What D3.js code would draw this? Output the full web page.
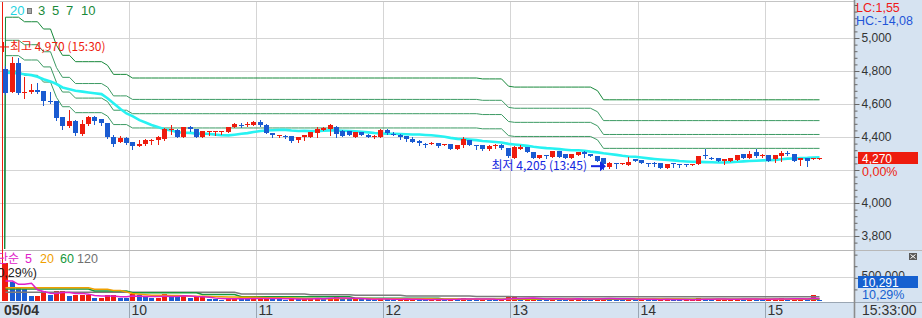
<!DOCTYPE html>
<html>
<head>
<meta charset="utf-8">
<script src="https://cdn.jsdelivr.net/npm/d3@7"></script>
<style>
    body { margin: 0; background: #ffffff; }
    svg { display: block; }
    text { font-family: "Liberation Sans Narrow", "Liberation Sans", Arial, sans-serif; }
    .kr { font-family: "Noto Sans CJK KR", sans-serif; }
    .wide { font-family: "Liberation Sans", Arial, sans-serif; }
</style>
</head>
<body>
<div id="chart-area"></div>
<script>
// 05/04, 3-minute candles starting at 09:00
var slotMinutes = 3;

var open = [
    4810, 4675, 4850, 4670, 4670, 4685, 4680, 4620, 4620, 4520,
    4465, 4495, 4420, 4480, 4520, 4510, 4485, 4400, 4370, 4395,
    4370, 4345, 4360, 4375, 4380, 4385, 4440, 4445, 4400, 4460,
    4450, 4400, 4430, 4430, 4430, 4430, 4460, 4475, 4475, 4475,
    4490, 4475, 4425, 4405, 4405, 4405, 4380, 4400, 4400, 4425,
    4445, 4450, 4460, 4435, 4435, 4400, 4430, 4415, 4400, 4400,
    4445, 4420, 4415, 4405, 4385, 4375, 4355, 4355, 4365, 4350,
    4355, 4330, 4350, 4380, 4350, 4350, 4325, 4345, 4350, 4335,
    4275, 4330, 4340, 4310, 4275, 4290, 4280, 4315, 4295, 4275,
    4290, 4310, 4295, 4285, 4275, 4220, 4240, 4235, 4230, 4265,
    4260, 4245, 4245, 4240, 4215, 4240, 4235, 4235, 4230, 4235,
    4290, 4275, 4275, 4255, 4255, 4260, 4295, 4275, 4310, 4290,
    4290, 4265, 4285, 4305, 4300, 4260, 4275, 4265, 4265
];
var high = [
    4830, 4885, 4880, 4765, 4720, 4730, 4680, 4675, 4620, 4520,
    4565, 4505, 4505, 4525, 4525, 4510, 4485, 4410, 4405, 4400,
    4370, 4380, 4385, 4390, 4405, 4455, 4475, 4450, 4460, 4465,
    4450, 4435, 4435, 4435, 4435, 4460, 4485, 4485, 4490, 4495,
    4505, 4480, 4425, 4415, 4415, 4405, 4400, 4415, 4430, 4460,
    4460, 4480, 4465, 4440, 4435, 4430, 4430, 4420, 4410, 4450,
    4450, 4430, 4420, 4405, 4400, 4380, 4365, 4370, 4365, 4355,
    4355, 4350, 4400, 4380, 4350, 4350, 4350, 4355, 4355, 4335,
    4345, 4350, 4340, 4310, 4290, 4290, 4315, 4315, 4295, 4295,
    4310, 4315, 4295, 4285, 4275, 4250, 4240, 4240, 4280, 4265,
    4260, 4245, 4250, 4240, 4235, 4240, 4235, 4235, 4235, 4285,
    4325, 4280, 4275, 4265, 4270, 4290, 4295, 4315, 4325, 4300,
    4290, 4290, 4315, 4315, 4300, 4275, 4275, 4270, 4270
];
var low = [
    4660, 4670, 4660, 4635, 4665, 4665, 4595, 4605, 4505, 4450,
    4460, 4415, 4415, 4475, 4480, 4475, 4395, 4345, 4370, 4360,
    4325, 4345, 4350, 4360, 4360, 4380, 4420, 4400, 4400, 4435,
    4400, 4400, 4410, 4410, 4420, 4430, 4460, 4460, 4465, 4470,
    4465, 4425, 4400, 4400, 4395, 4370, 4370, 4380, 4400, 4400,
    4440, 4410, 4400, 4405, 4410, 4400, 4410, 4400, 4395, 4400,
    4420, 4410, 4390, 4375, 4370, 4350, 4340, 4355, 4340, 4350,
    4325, 4330, 4340, 4350, 4330, 4320, 4320, 4335, 4325, 4280,
    4275, 4325, 4310, 4275, 4275, 4275, 4280, 4280, 4275, 4275,
    4290, 4280, 4285, 4255, 4205, 4210, 4210, 4235, 4230, 4255,
    4240, 4225, 4225, 4215, 4215, 4220, 4220, 4225, 4230, 4235,
    4270, 4265, 4255, 4235, 4255, 4260, 4275, 4270, 4280, 4280,
    4255, 4250, 4255, 4290, 4255, 4230, 4225, 4265, 4265
];
var close = [
    4665, 4850, 4665, 4675, 4685, 4675, 4620, 4610, 4515, 4465,
    4495, 4425, 4480, 4520, 4500, 4485, 4400, 4360, 4395, 4365,
    4345, 4360, 4380, 4380, 4400, 4450, 4450, 4400, 4460, 4450,
    4400, 4435, 4435, 4435, 4435, 4460, 4480, 4470, 4480, 4490,
    4475, 4425, 4415, 4415, 4400, 4375, 4400, 4410, 4430, 4450,
    4455, 4470, 4420, 4405, 4410, 4430, 4410, 4400, 4405, 4445,
    4425, 4415, 4400, 4385, 4370, 4365, 4350, 4365, 4345, 4355,
    4325, 4350, 4385, 4350, 4345, 4325, 4345, 4350, 4335, 4285,
    4340, 4340, 4310, 4275, 4290, 4285, 4315, 4280, 4275, 4295,
    4310, 4295, 4285, 4255, 4235, 4240, 4235, 4240, 4250, 4255,
    4240, 4240, 4240, 4215, 4235, 4235, 4230, 4230, 4235, 4285,
    4285, 4270, 4255, 4265, 4270, 4290, 4275, 4295, 4285, 4290,
    4255, 4290, 4305, 4300, 4255, 4275, 4255, 4270, 4270
];
// volume, thousands of shares
var volumeK = [
    813, 416, 308, 259, 114, 118, 222, 129, 222, 225,
    114, 129, 132, 140, 70, 72, 129, 130, 70, 60,
    145, 120, 95, 60, 75, 150, 110, 95, 130, 60,
    85, 90, 40, 35, 30, 55, 70, 45, 40, 55,
    60, 75, 50, 35, 30, 55, 40, 45, 55, 70,
    45, 75, 78, 50, 45, 55, 40, 35, 25, 60,
    45, 30, 35, 40, 45, 30, 25, 35, 40, 25,
    45, 35, 60, 50, 30, 40, 35, 30, 35, 85,
    90, 40, 45, 60, 40, 30, 55, 45, 40, 45,
    50, 40, 35, 50, 75, 60, 35, 30, 50, 35,
    40, 30, 25, 40, 45, 25, 20, 20, 25, 70,
    45, 30, 35, 40, 45, 50, 35, 45, 40, 30,
    45, 50, 55, 35, 45, 50, 40, 130, 10.291
];

// averages carried over from the previous session
var ma20Head = [
    4790, 4788, 4785, 4780, 4775, 4765, 4750, 4737, 4721, 4700,
    4690, 4680, 4675, 4670, 4665, 4660, 4635, 4605, 4570
];
var volMa5Head = [431, 431, 360, 360];
var volMa20Head = [
    287, 287, 287, 287, 287, 287, 287, 287, 287, 287,
    287, 287, 287, 287, 252, 252, 252, 226, 226
];
var volMa60K = [
    259, 259, 259, 259, 259, 259, 259, 259, 259, 259,
    259, 259, 259, 259, 216, 216, 216, 216, 216, 216,
    179, 179, 179, 179, 179, 179, 179, 179, 179, 179,
    179, 140, 140, 140, 140, 140, 140, 93, 93, 93,
    93, 93, 93, 93, 93, 93, 93, 93, 93, 93,
    93, 93, 93, 93, 93, 58, 58, 58, 58, 58,
    58, 58, 58, 58, 58, 58, 58, 58, 58, 37,
    37, 37, 37, 37, 37, 37, 37, 37, 37, 37,
    37, 37, 37, 37, 37, 37, 37, 37, 37, 37,
    37, 37, 37, 37, 37, 37, 37, 37, 37, 37,
    37, 37, 37, 37, 37, 37, 37, 37, 37, 37,
    37, 37, 37, 37, 37, 37, 37, 37, 37, 37,
    37, 37, 37, 37, 37, 37, 37, 37, 37
];
var volMa120K = [
    188, 188, 188, 188, 188, 188, 188, 188, 188, 188,
    188, 188, 188, 188, 188, 188, 188, 188, 188, 188,
    188, 188, 188, 188, 188, 188, 188, 188, 188, 188,
    188, 188, 188, 188, 188, 188, 188, 151, 151, 151,
    151, 151, 151, 151, 151, 151, 151, 151, 136, 136,
    136, 136, 136, 136, 136, 123, 123, 123, 123, 123,
    123, 123, 123, 108, 108, 108, 108, 108, 108, 108,
    108, 108, 108, 108, 97, 97, 97, 97, 97, 97,
    91, 91, 91, 91, 91, 91, 91, 91, 91, 91,
    91, 91, 91, 91, 91, 91, 91, 91, 91, 91,
    91, 91, 91, 91, 91, 91, 91, 91, 91, 91,
    91, 91, 91, 91, 91, 91, 91, 91, 91, 91,
    91, 91, 91, 91, 91, 91, 91, 91, 91
];

var envelopePct = [3, 5, 7, 10];
var priceTicks = [3800, 4000, 4200, 4400, 4600, 4800, 5000];
var volTicks = [500];
var hourTicks = [60, 120, 180, 240, 300, 360];   // minutes after 09:00
var hourLabels = ["10", "11", "12", "13", "14", "15"];
var dayLabel = "05/04";
var clockLabel = "15:33:00";
var dayHigh = 4970, dayHighTime = "15:30";
var dayLowTime = "13:45";
var lastPrice = 4270, lastChange = "0,00%";
var lastVolume = "10,291", lastVolumePct = "10,29%";
var lcText = "LC:1,55", hcText = "HC:-14,08";

var width = 922;
var height = 318;
var plotRight = 854;
var mainTop = 2, mainBottom = 249;
var volTop = 251, volBottom = 301;
var bandTop = 302;

var red = "#ee1c0e";
var blue = "#1a5bd1";
var panelFill = "#d6e3f1";
var gridColor = "#d5d5d5";
var fmt = d3.format(",");

var svg = d3.select("#chart-area")
    .append("svg")
    .attr("width", width)
    .attr("height", height);

svg.append("rect").attr("width", width).attr("height", height).attr("fill", "#fff");
svg.append("rect")
    .attr("x", plotRight).attr("y", 0)
    .attr("width", width - plotRight).attr("height", height)
    .attr("fill", panelFill);
svg.append("rect")
    .attr("x", 0).attr("y", bandTop)
    .attr("width", plotRight).attr("height", height - bandTop)
    .attr("fill", panelFill);

var x = d3.scaleLinear().domain([0, 393]).range([2, 835.2]);
var y = d3.scaleLinear().domain([4200, 5000]).range([170, 38]);
var yv = d3.scaleLinear().domain([0, 1100]).range([volBottom, 250]);

function cx(i) {
    return Math.round(x(i * slotMinutes + slotMinutes / 2));
}
function px(v) {
    return Math.floor(v) + 0.5;
}
function candleColor(i) {
    return close[i] >= open[i] ? red : blue;
}

var defs = svg.append("defs");
defs.append("clipPath").attr("id", "clip-main")
    .append("rect").attr("x", 0).attr("y", mainTop)
    .attr("width", plotRight).attr("height", mainBottom - mainTop);
defs.append("clipPath").attr("id", "clip-vol")
    .append("rect").attr("x", 0).attr("y", volTop)
    .attr("width", plotRight).attr("height", volBottom - volTop + 1);

// grid
svg.append("g").selectAll("line")
    .data(priceTicks)
    .enter()
    .append("line")
    .attr("x1", 0).attr("x2", plotRight)
    .attr("y1", function(d) { return px(y(d)); })
    .attr("y2", function(d) { return px(y(d)); })
    .attr("stroke", gridColor);

svg.append("g").selectAll("line")
    .data(volTicks)
    .enter()
    .append("line")
    .attr("x1", 0).attr("x2", plotRight)
    .attr("y1", function(d) { return px(yv(d)); })
    .attr("y2", function(d) { return px(yv(d)); })
    .attr("stroke", gridColor);

svg.append("g").selectAll("line")
    .data(hourTicks)
    .enter()
    .append("line")
    .attr("x1", function(d) { return px(x(d)); })
    .attr("x2", function(d) { return px(x(d)); })
    .attr("y1", mainTop).attr("y2", bandTop)
    .attr("stroke", gridColor);

svg.append("g").selectAll("line")
    .data(hourTicks)
    .enter()
    .append("line")
    .attr("x1", function(d) { return px(x(d)); })
    .attr("x2", function(d) { return px(x(d)); })
    .attr("y1", bandTop).attr("y2", height)
    .attr("stroke", "#9aa6b3");

// panel borders
svg.append("line").attr("x1", 0).attr("x2", plotRight).attr("y1", 1.5).attr("y2", 1.5).attr("stroke", "#c4c4c4");
svg.append("line").attr("x1", 0).attr("x2", width).attr("y1", 250.5).attr("y2", 250.5).attr("stroke", "#b8b8b8");
svg.append("line").attr("x1", 0).attr("x2", width).attr("y1", bandTop + 0.5).attr("y2", bandTop + 0.5).attr("stroke", "#9aa6b3");
svg.append("line").attr("x1", plotRight + 0.5).attr("x2", plotRight + 0.5).attr("y1", 0).attr("y2", height)
    .attr("stroke", "#8c8c8c").attr("stroke-width", 1.6);

// day separator
svg.append("line")
    .attr("x1", px(x(0))).attr("x2", px(x(0)))
    .attr("y1", mainTop).attr("y2", volBottom)
    .attr("stroke", red);

// ---- main panel ----
var main = svg.append("g").attr("clip-path", "url(#clip-main)");

var runMin = [];
low.forEach(function(v, i) {
    runMin.push(i === 0 ? v : Math.min(runMin[i - 1], v));
});

var envLine = d3.line()
    .x(function(d) { return d.x; })
    .y(function(d) { return y(d.v); });

envelopePct.forEach(function(p) {
    var pts = [{ x: x(0), v: 0 }].concat(runMin.map(function(m, i) {
        return { x: cx(i) + 0.5, v: m * (1 + p / 100) };
    }));
    main.append("path")
        .attr("d", envLine(pts))
        .attr("fill", "none")
        .attr("stroke", p === 10 ? "#17883a" : "#3c9a63")
        .attr("stroke-width", 1);
});

var ma20 = close.map(function(d, i) {
    return i < ma20Head.length ? ma20Head[i] : d3.mean(close.slice(i - 19, i + 1));
});

main.append("path")
    .attr("d", d3.line()
        .x(function(d, i) { return cx(i) + 0.5; })
        .y(function(d) { return y(d); })(ma20))
    .attr("fill", "none")
    .attr("stroke", "#27f2f2")
    .attr("stroke-width", 2.6);

var candles = main.append("g")
    .selectAll("g")
    .data(close)
    .enter()
    .append("g");

candles.append("line")
    .attr("x1", function(d, i) { return cx(i) + 0.5; })
    .attr("x2", function(d, i) { return cx(i) + 0.5; })
    .attr("y1", function(d, i) { return Math.round(y(Math.max(high[i], open[i], close[i]))); })
    .attr("y2", function(d, i) { return Math.round(y(Math.min(low[i], open[i], close[i]))) + 1; })
    .attr("stroke", function(d, i) { return candleColor(i); })
    .attr("shape-rendering", "crispEdges");

candles.append("rect")
    .attr("x", function(d, i) { return cx(i) - 2; })
    .attr("y", function(d, i) { return Math.round(y(Math.max(open[i], close[i]))); })
    .attr("width", 5)
    .attr("height", function(d, i) {
        return Math.max(1, Math.round(y(Math.min(open[i], close[i]))) - Math.round(y(Math.max(open[i], close[i]))));
    })
    .attr("fill", function(d, i) { return candleColor(i); })
    .attr("shape-rendering", "crispEdges");

// high / low markers
var hy = y(dayHigh) + 4;
svg.append("line").attr("x1", 0).attr("x2", 9).attr("y1", hy).attr("y2", hy).attr("stroke", red);
svg.append("line").attr("x1", 3).attr("x2", 3).attr("y1", hy - 5).attr("y2", hy + 5).attr("stroke", red).attr("stroke-width", 2);
svg.append("text")
    .attr("class", "kr")
    .attr("x", 10).attr("y", hy)
    .attr("dy", "0.36em")
    .attr("font-size", 12)
    .attr("fill", red)
    .text("최고 " + fmt(dayHigh) + " (" + dayHighTime + ")");

var lowIdx = d3.minIndex(low);
var ly = y(low[lowIdx]) - 3;
var tipX = cx(lowIdx) + 3;
svg.append("line").attr("x1", tipX - 15).attr("x2", tipX - 4).attr("y1", ly).attr("y2", ly)
    .attr("stroke", "#1326e0").attr("stroke-width", 2);
svg.append("path")
    .attr("d", d3.line()([[tipX - 6, ly - 5], [tipX, ly], [tipX - 6, ly + 5]]) + "Z")
    .attr("fill", "#1326e0");
svg.append("text")
    .attr("class", "kr")
    .attr("x", tipX - 19).attr("y", ly)
    .attr("dy", "0.36em")
    .attr("text-anchor", "end")
    .attr("font-size", 12)
    .attr("fill", "#1326e0")
    .text("최저 " + fmt(low[lowIdx]) + " (" + dayLowTime + ")");

// main legend
svg.append("text").attr("x", 10).attr("y", 15).attr("font-size", 13).attr("fill", "#1fd3e0").text("20");
svg.append("rect").attr("x", 27.5).attr("y", 8.5).attr("width", 4).attr("height", 5)
    .attr("fill", "#a8a8a8").attr("stroke", "#777");
var legendX = [38, 52, 66, 81];
envelopePct.forEach(function(p, i) {
    svg.append("text").attr("x", legendX[i]).attr("y", 15).attr("font-size", 13)
        .attr("fill", "#1a8a3a").text(p);
});

// ---- volume panel ----
var vol = svg.append("g").attr("clip-path", "url(#clip-vol)");

vol.selectAll("rect")
    .data(volumeK)
    .enter()
    .append("rect")
    .attr("x", function(d, i) { return cx(i) - 2; })
    .attr("y", function(d) { return Math.min(volBottom - 1, Math.round(yv(d))); })
    .attr("width", 5)
    .attr("height", function(d) { return Math.max(1, volBottom - Math.round(yv(d))); })
    .attr("fill", function(d, i) { return i === 0 || d >= volumeK[i - 1] ? red : blue; })
    .attr("shape-rendering", "crispEdges");

var volMa5 = volumeK.map(function(d, i) {
    return i < volMa5Head.length ? volMa5Head[i] : d3.mean(volumeK.slice(i - 4, i + 1));
});
var volMa20 = volumeK.map(function(d, i) {
    return i < volMa20Head.length ? volMa20Head[i] : d3.mean(volumeK.slice(i - 19, i + 1));
});

var volLine = d3.line()
    .x(function(d, i) { return cx(i) + 0.5; })
    .y(function(d) { return yv(d); });

[[volMa120K, "#7a7a7a"], [volMa60K, "#16983c"], [volMa20, "#f0a000"], [volMa5, "#e020c8"]].forEach(function(s) {
    vol.append("path")
        .attr("d", volLine(s[0]))
        .attr("fill", "none")
        .attr("stroke", s[1])
        .attr("stroke-width", 1.5);
});

// volume legend (clipped at the left edge, as in the terminal)
svg.append("text").attr("class", "kr").attr("x", 19).attr("y", 263).attr("text-anchor", "end")
    .attr("font-size", 12).attr("fill", "#e020c8").text("단순");
var volLegend = [["5", "#e020c8", 25], ["20", "#f0a000", 40], ["60", "#16983c", 60], ["120", "#707070", 77]];
volLegend.forEach(function(d) {
    svg.append("text").attr("x", d[2]).attr("y", 263).attr("font-size", 12.5).attr("fill", d[1]).text(d[0]);
});
svg.append("text").attr("x", 37).attr("y", 277).attr("text-anchor", "end")
    .attr("font-size", 12.5).attr("fill", "#222").text("(" + lastVolumePct + ")");

// ---- right axes ----
var axisX = plotRight + 0.5;
var py = Math.round(y(lastPrice));

var yAxisMinor = d3.axisRight(y).tickValues(d3.range(3760, 5201, 40)).tickSize(3).tickFormat("");
var yAxis = d3.axisRight(y).tickValues(priceTicks).tickSize(5).tickPadding(2).tickFormat(fmt);
var vAxisMinor = d3.axisRight(yv).tickValues([250, 750, 1000]).tickSize(3).tickFormat("");
var vAxis = d3.axisRight(yv).tickValues(volTicks).tickSize(5).tickPadding(2)
    .tickFormat(function(d) { return fmt(d * 1000); });

[yAxisMinor, yAxis, vAxisMinor, vAxis].forEach(function(ax) {
    var g = svg.append("g").attr("transform", "translate(" + axisX + ",0)").call(ax);
    g.select(".domain").remove();
    g.selectAll("line").attr("stroke", "#666");
    g.selectAll("text").attr("class", "wide").attr("font-size", 12).attr("fill", "#333");
    if (ax === yAxis) {
        // labels that would sit under the current-price box are not drawn
        g.selectAll(".tick text").filter(function(d) {
            return Math.abs(y(d) - py) < 14;
        }).remove();
    }
    if (ax === vAxis) {
        g.selectAll(".tick text").attr("dy", "0.1em");
    }
});

svg.append("text").attr("class", "wide").attr("x", 856).attr("y", 12).attr("font-size", 12.5).attr("fill", "#f01818").text(lcText);
svg.append("text").attr("class", "wide").attr("x", 856).attr("y", 25).attr("font-size", 12.5).attr("fill", "#1f55d8").text(hcText);

svg.append("rect").attr("x", 858).attr("y", py - 6).attr("width", 60).attr("height", 12).attr("fill", red);
svg.append("text").attr("class", "wide").attr("x", 862).attr("y", py + 4.5).attr("font-size", 12).attr("fill", "#fff").text(fmt(lastPrice));
svg.append("text").attr("x", 862).attr("y", py + 18).attr("font-size", 12.5).attr("fill", red).text(lastChange);

svg.append("rect").attr("x", 858).attr("y", 276).attr("width", 60).attr("height", 12).attr("fill", "#1560d0");
svg.append("text").attr("class", "wide").attr("x", 862).attr("y", 286.5).attr("font-size", 12).attr("fill", "#fff").text(lastVolume);
svg.append("text").attr("x", 862).attr("y", 299).attr("font-size", 12.5).attr("fill", "#1560d0").text(lastVolumePct);

// small panel button
svg.append("rect").attr("x", 909).attr("y", 253).attr("width", 8).attr("height", 7).attr("fill", "#5a5a5a");
svg.append("path").attr("d", "M910.5,254.5L915.5,258.5M915.5,254.5L910.5,258.5").attr("stroke", "#fff").attr("stroke-width", 1);

// ---- time axis ----
svg.append("text")
    .attr("x", x(0) + 2).attr("y", 315)
    .attr("font-size", 14).attr("font-weight", "bold").attr("fill", "#333")
    .text(dayLabel);

svg.append("g").selectAll("text")
    .data(hourTicks)
    .enter()
    .append("text")
    .attr("x", function(d) { return px(x(d)) + 2; })
    .attr("y", 315)
    .attr("font-size", 14)
    .attr("fill", "#333")
    .text(function(d, i) { return hourLabels[i]; });

svg.append("text").attr("x", 862).attr("y", 315).attr("font-size", 14).attr("fill", "#333").text(clockLabel);
</script>
</body>
</html>
